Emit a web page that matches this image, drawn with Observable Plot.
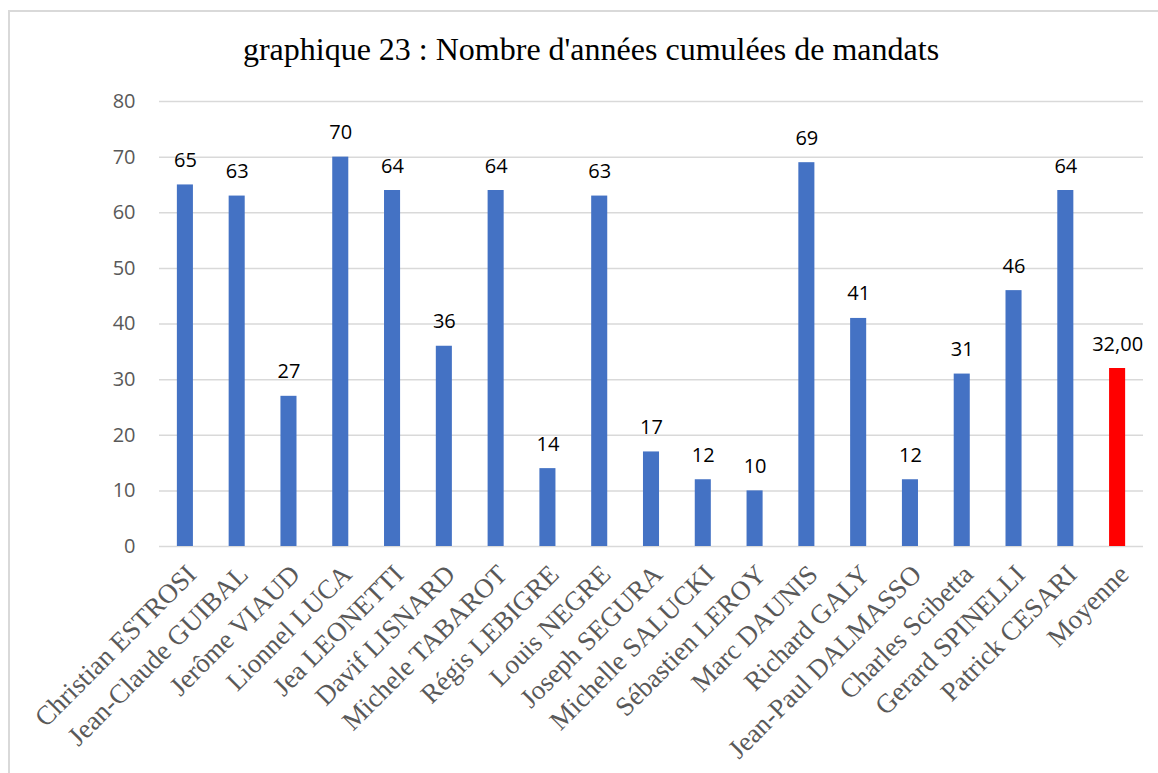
<!DOCTYPE html>
<html>
<head>
<meta charset="utf-8">
<script src="https://cdn.jsdelivr.net/npm/d3@7"></script>
<script src="https://cdn.jsdelivr.net/npm/@observablehq/plot@0.6"></script>
<style>
  html, body { margin: 0; padding: 0; background: #fff; }
  #wrap { position: relative; width: 1158px; height: 773px; overflow: hidden; }
  #frame { position: absolute; left: 8px; top: 10px; width: 1200px; height: 800px; border: 2px solid #d9d9d9; box-sizing: border-box; }
  #title { position: absolute; left: 0; width: 1182px; top: 31px; text-align: center;
           font-family: "Liberation Serif", "Times New Roman", serif; font-size: 32px; color: #000; }
  #chart { position: absolute; left: 0; top: 0; }
</style>
</head>
<body>
<div id="wrap">
  <div id="frame"></div>
  <div id="chart"></div>
  <div id="title">graphique 23 : Nombre d'années cumulées de mandats</div>
</div>
<script>
const names = ["Christian ESTROSI","Jean-Claude GUIBAL","Jerôme VIAUD","Lionnel LUCA","Jea LEONETTI","Davif LISNARD","Michele TABAROT","Régis LEBIGRE","Louis NEGRE","Joseph SEGURA","Michelle SALUCKI","Sébastien LEROY","Marc DAUNIS","Richard GALY","Jean-Paul DALMASSO","Charles Scibetta","Gerard SPINELLI","Patrick CESARI","Moyenne"];
const values = [65,63,27,70,64,36,64,14,63,17,12,10,69,41,12,31,46,64,32];
const valueLabels = ["65","63","27","70","64","36","64","14","63","17","12","10","69","41","12","31","46","64","32,00"];
const yTicks = [0,10,20,30,40,50,60,70,80];

const data = names.map((n, i) => ({name: n, value: values[i], label: valueLabels[i], avg: n === "Moyenne"}));

const plot = Plot.plot({
  width: 1158,
  height: 773,
  marginLeft: 159,
  marginRight: 15,
  marginTop: 101,
  marginBottom: 227,
  style: {background: "transparent", overflow: "visible"},
  x: {domain: names, paddingInner: 0.69, paddingOuter: 0.345, round: false, axis: null},
  y: {domain: [0, 80], ticks: yTicks, axis: null},
  marks: [
    Plot.gridY(yTicks, {stroke: "#d9d9d9", strokeOpacity: 1, strokeWidth: 1.5}),
    Plot.axisY({ticks: yTicks, tickSize: 0, tickPadding: 24, fontSize: 20, fill: "#595959", label: null,
                fontFamily: "Open Sans, Liberation Sans, sans-serif"}),
    Plot.barY(data, {x: "name", y: "value", fill: d => d.avg ? "#ff0000" : "#4472c4"}),
    Plot.text(data, {x: "name", y: "value", text: "label", lineAnchor: "bottom", dy: -18,
                     fontSize: 20, fill: "#000", fontFamily: "Open Sans, Liberation Sans, sans-serif"}),
    Plot.text(data, {x: "name", frameAnchor: "bottom", text: "name", rotate: -45,
                     textAnchor: "end", lineAnchor: "top", dx: -1, dy: 16,
                     fontSize: 27, fill: "#595959", fontFamily: "Liberation Serif, Times New Roman, serif"})
  ]
});
document.getElementById("chart").appendChild(plot);
</script>
</body>
</html>
